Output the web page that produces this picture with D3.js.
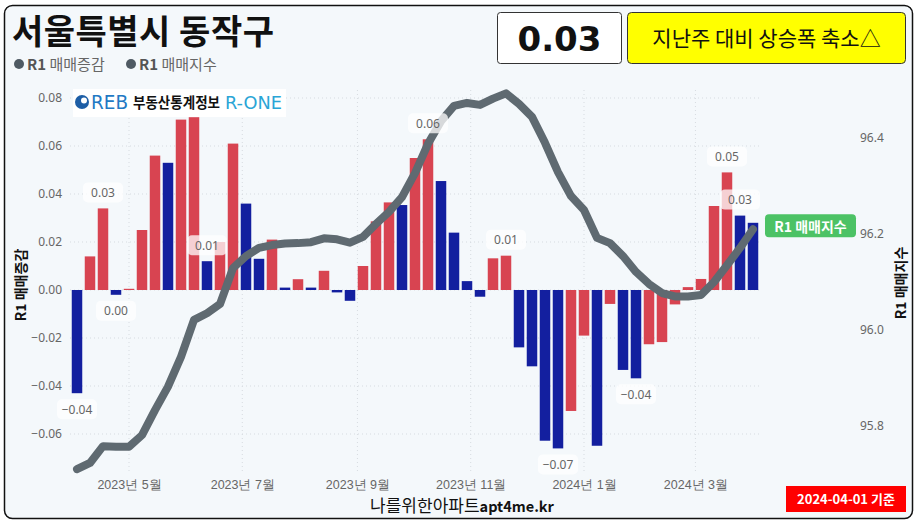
<!DOCTYPE html>
<html><head><meta charset="utf-8">
<script src="https://cdn.jsdelivr.net/npm/d3@7/dist/d3.min.js"></script>
<style>
html,body{margin:0;padding:0;background:#fff;}
svg{display:block;font-family:"Noto Sans CJK KR","Noto Sans",sans-serif;}
</style></head>
<body>
<svg id="c" width="920" height="524"></svg>
<script>
const title = "서울특별시 동작구";
const statusText = "지난주 대비 상승폭 축소△";
const baseDate = "2024-04-01 기준";
const seriesNames = ["R1 매매증감", "R1 매매지수"];

const weeks = ["2023-04-03","2023-04-10","2023-04-17","2023-04-24","2023-05-01","2023-05-08","2023-05-15","2023-05-22","2023-05-29",
"2023-06-05","2023-06-12","2023-06-19","2023-06-26","2023-07-03","2023-07-10","2023-07-17","2023-07-24","2023-07-31",
"2023-08-07","2023-08-14","2023-08-21","2023-08-28","2023-09-04","2023-09-11","2023-09-18","2023-09-25","2023-10-02",
"2023-10-09","2023-10-16","2023-10-23","2023-10-30","2023-11-06","2023-11-13","2023-11-20","2023-11-27","2023-12-04",
"2023-12-11","2023-12-18","2023-12-25","2024-01-01","2024-01-08","2024-01-15","2024-01-22","2024-01-29","2024-02-05",
"2024-02-12","2024-02-19","2024-02-26","2024-03-04","2024-03-11","2024-03-18","2024-03-25","2024-04-01"];

const change = [-0.043,0.014,0.034,-0.002,0.0005,0.025,0.056,0.053,0.071,
0.072,0.012,0.020,0.061,0.036,0.013,0.021,0.001,0.0045,
0.001,0.008,-0.001,-0.0045,0.010,0.0286,0.0365,0.0354,0.055,
0.0628,0.0454,0.0239,0.0037,-0.0028,0.0132,0.0143,-0.0239,-0.0318,
-0.0628,-0.066,-0.0504,-0.019,-0.0649,-0.0058,-0.0333,-0.0368,-0.0226,
-0.0217,-0.006,0.0012,0.0046,0.035,0.049,0.031,0.028];

const index = [95.710,95.723,95.758,95.757,95.757,95.781,95.833,95.882,95.944,
96.021,96.035,96.054,96.129,96.154,96.171,96.177,96.180,96.181,
96.183,96.191,96.189,96.182,96.194,96.221,96.246,96.277,96.327,
96.388,96.435,96.467,96.473,96.469,96.482,96.493,96.471,96.444,
96.390,96.329,96.279,96.250,96.192,96.181,96.154,96.121,96.096,
96.077,96.070,96.070,96.073,96.100,96.135,96.171,96.210];

const labelIdx = [0,2,3,10,27,33,37,43,50,51];
const leftTicks = [0.08,0.06,0.04,0.02,0.00,-0.02,-0.04,-0.06];
const rightTicks = [96.4,96.2,96.0,95.8];
const monthTicks = ["2023-05-01","2023-07-01","2023-09-01","2023-11-01","2024-01-01","2024-03-01"];

const parse = d3.timeParse("%Y-%m-%d");
const dates = weeks.map(parse);
const svg = d3.select("#c");

// frame
svg.append("rect").attr("x",4.5).attr("y",5.5).attr("width",908).attr("height",513)
  .attr("rx",8).attr("fill","#f4f8fb").attr("stroke","#111").attr("stroke-width",1.5);

const x = d3.scaleTime().domain([dates[0], dates[dates.length-1]]).range([77,753]);
const yL = d3.scaleLinear().domain([-0.075,0.08]).range([470,98]);
const yR = d3.scaleLinear().domain([95.8,96.4]).range([426,138]);

// gridlines
const grid = svg.append("g");
leftTicks.forEach(t=>{
  grid.append("line").attr("x1",70).attr("x2",762).attr("y1",yL(t)).attr("y2",yL(t))
    .attr("stroke","#d6dbe0").attr("stroke-dasharray","1,3");
});
monthTicks.forEach(m=>{
  const xx = x(parse(m));
  grid.append("line").attr("x1",xx).attr("x2",xx).attr("y1",90).attr("y2",472)
    .attr("stroke","#d6dbe0").attr("stroke-dasharray","1,3");
});

// left axis
const axL = d3.axisLeft(yL).tickValues(leftTicks).tickFormat(d3.format(".2f")).tickSize(0).tickPadding(0);
const gL = svg.append("g").attr("transform","translate(62,0)").call(axL);
gL.select(".domain").remove();
gL.selectAll("text").attr("font-size",12).attr("fill","#666").attr("font-family","'Noto Sans','Noto Sans CJK KR',sans-serif");

// right axis
const axR = d3.axisRight(yR).tickValues(rightTicks).tickFormat(d3.format(".1f")).tickSize(0).tickPadding(0);
const gR = svg.append("g").attr("transform","translate(860,0)").call(axR);
gR.select(".domain").remove();
gR.selectAll("text").attr("font-size",12).attr("fill","#666").attr("font-family","'Noto Sans','Noto Sans CJK KR',sans-serif");

// bottom axis
const fmtM = d => d.getFullYear()+"년 "+(d.getMonth()+1)+"월";
const axB = d3.axisBottom(x).tickValues(monthTicks.map(parse)).tickFormat(fmtM).tickSize(0).tickPadding(0);
const gB = svg.append("g").attr("transform","translate(0,480)").call(axB);
gB.select(".domain").remove();
gB.selectAll("text").attr("font-size",12.5).attr("fill","#666");

// bars
const bw = 10.5;
svg.append("g").selectAll("rect").data(change).join("rect")
  .attr("x",(d,i)=>x(dates[i])-bw/2)
  .attr("width",bw)
  .attr("y",d=>yL(Math.max(0,d)))
  .attr("height",d=>Math.max(0.8,Math.abs(yL(d)-yL(0))))
  .attr("fill",(d,i)=> (i>0 && d>change[i-1]) ? "#d84451" : "#131f9f");

// line
const line = d3.line().x((d,i)=>x(dates[i])).y(d=>yR(d)).curve(d3.curveLinear);
svg.append("path").datum(index).attr("d",line).attr("fill","none")
  .attr("stroke","#5f6a71").attr("stroke-width",8).attr("stroke-linejoin","round").attr("stroke-linecap","round");

// data labels
const fmt2 = v => { let s = d3.format(".2f")(v); return s==="-0.00" ? "0.00" : s; };
const lg = svg.append("g");
labelIdx.forEach(i=>{
  const v = change[i];
  const cx = x(dates[i]);
  const cy = v>=0 ? yL(v)-16 : yL(v)+16;
  lg.append("rect").attr("x",cx-20).attr("y",cy-10).attr("width",40).attr("height",20).attr("rx",5)
    .attr("fill","#ffffff").attr("opacity",0.75);
  lg.append("text").attr("x",cx).attr("y",cy+4.5).attr("text-anchor","middle")
    .attr("font-size",12).attr("fill","#666").attr("font-family","'Noto Sans',sans-serif").text(fmt2(v));
});

// end label
const lx = x(dates[dates.length-1]), ly = yR(index[index.length-1]);
svg.append("rect").attr("x",lx+12).attr("y",ly-15).attr("width",91).attr("height",23).attr("rx",4).attr("fill","#4cc265");
svg.append("text").attr("x",lx+57.5).attr("y",ly+2.5).attr("text-anchor","middle").attr("font-size",14)
  .attr("font-weight","bold").attr("fill","#fff").text(seriesNames[1]);

// logo
const logo = svg.append("g");
logo.append("rect").attr("x",73).attr("y",89).attr("width",213).attr("height",28).attr("fill","#fff");
logo.append("circle").attr("cx",82).attr("cy",102).attr("r",7).attr("fill","#1d5ea6");
logo.append("circle").attr("cx",84).attr("cy",100.5).attr("r",3).attr("fill","#fff");
logo.append("text").attr("x",91).attr("y",109).attr("font-size",19).attr("fill","#2279c4")
  .attr("font-family","'DejaVu Sans',sans-serif").attr("textLength",37).attr("lengthAdjust","spacingAndGlyphs").text("REB");
logo.append("text").attr("x",133).attr("y",108).attr("font-size",15).attr("font-weight","bold").attr("fill","#111")
  .attr("textLength",87).attr("lengthAdjust","spacingAndGlyphs").text("부동산통계정보");
logo.append("text").attr("x",225).attr("y",109).attr("font-size",18).attr("fill","#2aa5d6")
  .attr("font-family","'DejaVu Sans',sans-serif").attr("textLength",57).attr("lengthAdjust","spacingAndGlyphs").text("R-ONE");

// title
svg.append("text").attr("x",12).attr("y",44).attr("font-size",34).attr("font-weight","bold").attr("fill","#111")
  .attr("letter-spacing",0.5).text(title);
// legend
const leg = svg.append("g");
[[19,27],[131,139]].forEach((p,k)=>{
  leg.append("circle").attr("cx",p[0]).attr("cy",64).attr("r",5).attr("fill","#4f5a63");
  const t = leg.append("text").attr("x",p[1]).attr("y",69.5).attr("font-size",15).attr("fill","#666");
  const parts = seriesNames[k].split(" ");
  t.append("tspan").attr("font-weight","bold").attr("fill","#555").text(parts[0]+" ");
  t.append("tspan").text(parts.slice(1).join(" "));
});

// value box
svg.append("rect").attr("x",497.5).attr("y",12.5).attr("width",124).attr("height",51).attr("rx",3)
  .attr("fill","#fff").attr("stroke","#333").attr("stroke-width",1);
svg.append("text").attr("x",559.5).attr("y",51).attr("text-anchor","middle").attr("font-size",34).attr("font-weight","bold")
  .attr("fill","#111").attr("font-family","'DejaVu Sans','Noto Sans',sans-serif").text(d3.format(".2f")(change[change.length-1]));
svg.append("rect").attr("x",627.5).attr("y",12.5).attr("width",278).attr("height",51).attr("rx",4)
  .attr("fill","#ffff00").attr("stroke","#333").attr("stroke-width",1);
svg.append("text").attr("x",766.5).attr("y",45.5).attr("text-anchor","middle").attr("font-size",21).attr("fill","#111").text(statusText);

// axis titles
svg.append("text").attr("transform","translate(26,285) rotate(-90)").attr("text-anchor","middle")
  .attr("font-size",14).attr("font-weight","bold").attr("fill","#111").text(seriesNames[0]);
svg.append("text").attr("transform","translate(906,283) rotate(-90)").attr("text-anchor","middle")
  .attr("font-size",14).attr("font-weight","bold").attr("fill","#111").text(seriesNames[1]);

// footer
const ft = svg.append("text").attr("x",462).attr("y",512).attr("text-anchor","middle").attr("fill","#111");
ft.append("tspan").attr("font-size",17).text("나를위한아파트");
ft.append("tspan").attr("font-size",14.5).attr("font-weight","bold").text("apt4me.kr");

svg.append("rect").attr("x",786).attr("y",486).attr("width",120).attr("height",26).attr("fill","#ff0000");
svg.append("text").attr("x",846).attr("y",504).attr("text-anchor","middle").attr("font-size",13).attr("font-weight","bold")
  .attr("fill","#fff").text(baseDate);
</script>
</body></html>
